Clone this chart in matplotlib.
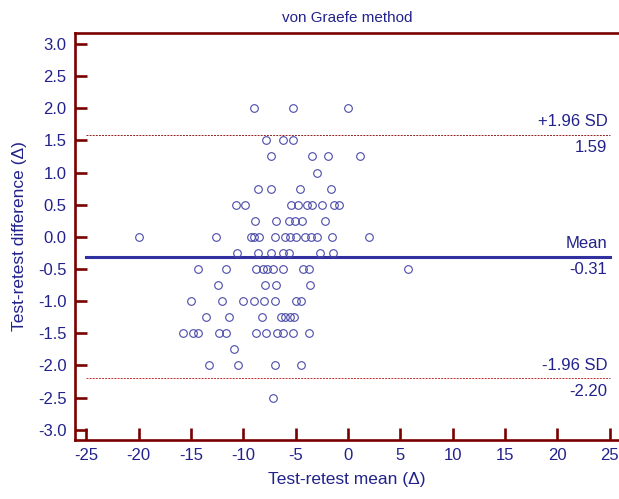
import matplotlib
matplotlib.use("Agg")
import matplotlib.pyplot as plt

# Bland-Altman data, read row by row (difference levels in 0.25 steps)
rows = {
    2.0: [-9.0, -5.3, 0.0],
    1.5: [-7.8, -6.2, -5.3],
    1.25: [-7.4, -3.4, -1.9, 1.1],
    1.0: [-3.0],
    0.75: [-8.6, -7.4, -4.6, -1.6],
    0.5: [-10.7, -9.8, -5.4, -4.8, -3.9, -3.4, -2.5, -1.3, -0.9],
    0.25: [-8.9, -6.9, -5.6, -5.1, -4.4, -2.2],
    0.0: [-20.0, -12.6, -9.3, -9.0, -8.5, -7.0, -6.0, -5.5, -5.0, -4.1, -3.5, -3.0, -1.5, 2.0],
    -0.25: [-10.6, -8.6, -7.4, -6.2, -5.6, -2.7, -1.4],
    -0.5: [-14.3, -11.7, -8.8, -8.1, -7.7, -7.2, -6.2, -4.3, -3.7, 5.7],
    -0.75: [-12.4, -7.9, -6.9, -3.6],
    -1.0: [-15.0, -12.0, -10.0, -9.0, -8.0, -7.0, -5.0, -4.5],
    -1.25: [-13.6, -11.4, -8.2, -6.4, -6.0, -5.5, -5.2],
    -1.5: [-15.8, -14.8, -14.3, -12.3, -11.7, -8.8, -7.8, -6.8, -6.2, -5.3, -3.7],
    -1.75: [-10.9],
    -2.0: [-13.3, -10.5, -7.0, -4.5],
    -2.5: [-7.2],
}
mean_x = [x for d, xs in rows.items() for x in xs]
diff_y = [d for d, xs in rows.items() for x in xs]

mean_diff = -0.31
upper_loa = 1.59
lower_loa = -2.20
line_span = [-25, 25]

xticks = list(range(-25, 30, 5))
yticks = [v / 2 for v in range(-6, 7)]

navy = "#22228c"
spine_red = "#7a0000"

plt.rcParams["font.family"] = ["Liberation Sans", "DejaVu Sans"]
plt.rcParams["axes.unicode_minus"] = False

fig = plt.figure(figsize=(6.19, 4.99), dpi=100)
ax = fig.add_axes([0.121, 0.118, 0.879, 0.816])

ax.plot(mean_x, diff_y, "o", ms=5.5, mfc="none", mec="#4a4aaa", mew=0.8, zorder=3)

ax.plot(line_span, [mean_diff] * 2, color="#3030a0", lw=2.2, zorder=2)
ax.plot(line_span, [upper_loa] * 2, color="#902020", lw=0.7, ls=(0, (2, 1.2)))
ax.plot(line_span, [lower_loa] * 2, color="#c03030", lw=0.7, ls=(0, (2, 1.2)))

tx = 24.8
for yv, top, bottom in [(upper_loa, "+1.96 SD", f"{upper_loa:.2f}"),
                        (mean_diff, "Mean", f"{mean_diff:.2f}"),
                        (lower_loa, "-1.96 SD", f"{lower_loa:.2f}")]:
    ax.annotate(top, (tx, yv), xytext=(0, 4), textcoords="offset points",
                ha="right", va="bottom", color=navy, fontsize=12)
    ax.annotate(bottom, (tx, yv), xytext=(0, -4), textcoords="offset points",
                ha="right", va="top", color=navy, fontsize=12)

ax.set_xlim(-26.1, 25.9)
ax.set_ylim(-3.16, 3.17)
ax.set_xticks(xticks)
ax.set_yticks(yticks)
ax.set_yticklabels([f"{v:.1f}" for v in yticks])

for side in ["left", "top", "bottom"]:
    ax.spines[side].set_color(spine_red)
    ax.spines[side].set_linewidth(1.9)
ax.spines["right"].set_visible(False)
ax.tick_params(direction="in", length=8.5, width=1.9, color=spine_red,
               labelcolor=navy, labelsize=12, pad=6)

ax.set_title("von Graefe method", color=navy, fontsize=11, pad=8)
ax.set_xlabel("Test-retest mean (\u0394)", color=navy, fontsize=12.5, labelpad=6)
ax.set_ylabel("Test-retest difference (\u0394)", color=navy, fontsize=12.5, labelpad=8)

fig.savefig("out.png", dpi=100)
